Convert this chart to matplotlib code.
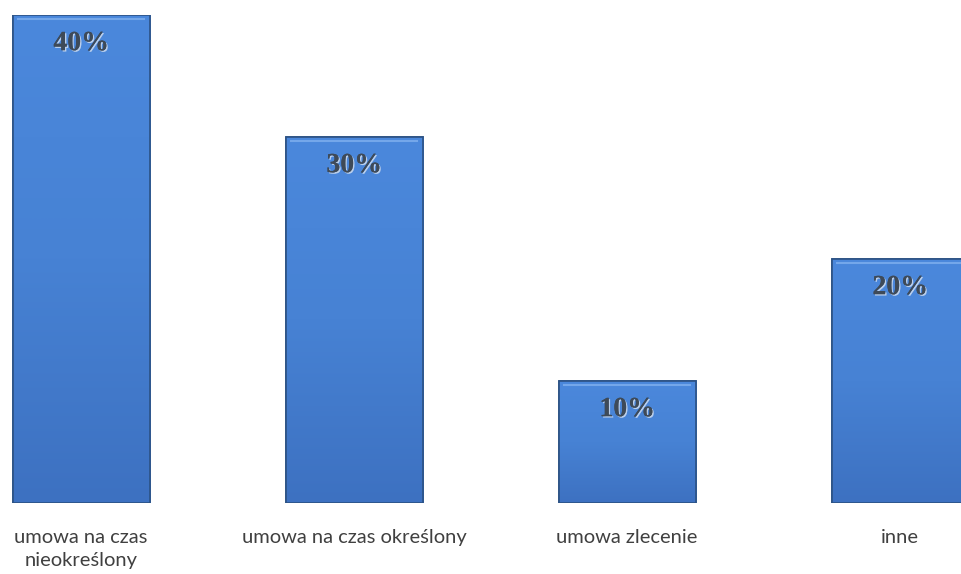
import matplotlib
matplotlib.use("Agg")
import matplotlib.pyplot as plt
import matplotlib.patheffects as pe
import numpy as np
from matplotlib.colors import LinearSegmentedColormap

categories = ["umowa na czas\nnieokreślony", "umowa na czas określony", "umowa zlecenie", "inne"]
values = [40, 30, 10, 20]
value_labels = ["40%", "30%", "10%", "20%"]

fig = plt.figure(figsize=(9.61, 5.74), dpi=100)
ax = fig.add_axes([0, 71 / 574, 1, 488 / 574])
x = np.arange(len(values))
bars = ax.bar(x, values, width=0.502, color="#4680d2", edgecolor="#2c5284", linewidth=1.2, zorder=2)

cmap = LinearSegmentedColormap.from_list("g", ["#3d71c1", "#4782d4", "#4b88dc"])
grad = np.linspace(0, 1, 256).reshape(-1, 1)
for b in bars:
    x0, w, h = b.get_x(), b.get_width(), b.get_height()
    im = ax.imshow(grad, extent=[x0, x0 + w, 0, h], origin="lower", cmap=cmap,
                   aspect="auto", zorder=2.5, interpolation="bicubic")
    im.set_clip_path(b)
    ax.plot([x0 + 0.02, x0 + w - 0.02], [h - 0.35, h - 0.35], color="#7fb0ee", lw=1.5, zorder=3, alpha=0.8)
    ax.add_patch(plt.Rectangle((x0, 0), w, h, fill=False, edgecolor="#2c5284", lw=1.2, zorder=3.5))

for xi, v, lab in zip(x, values, value_labels):
    ax.text(xi, v - 2.35, lab, ha="center", va="center", family="Liberation Serif",
            fontweight="bold", fontsize=20, color="#3e4a58", zorder=4,
            path_effects=[pe.withSimplePatchShadow(offset=(1, -1), shadow_rgbFace="#c8d8ee", alpha=0.9),
                          pe.Normal()])

ax.set_xlim(-0.297, 3.223)
ax.set_ylim(0, 40)
ax.set_xticks(x)
ax.set_xticklabels(categories, family="Lato", fontsize=14.5, color="#404040", linespacing=1.4)
ax.tick_params(axis="x", length=0, pad=19)
ax.set_yticks([])
for s in ax.spines.values():
    s.set_visible(False)

fig.savefig("out.png", dpi=100)
